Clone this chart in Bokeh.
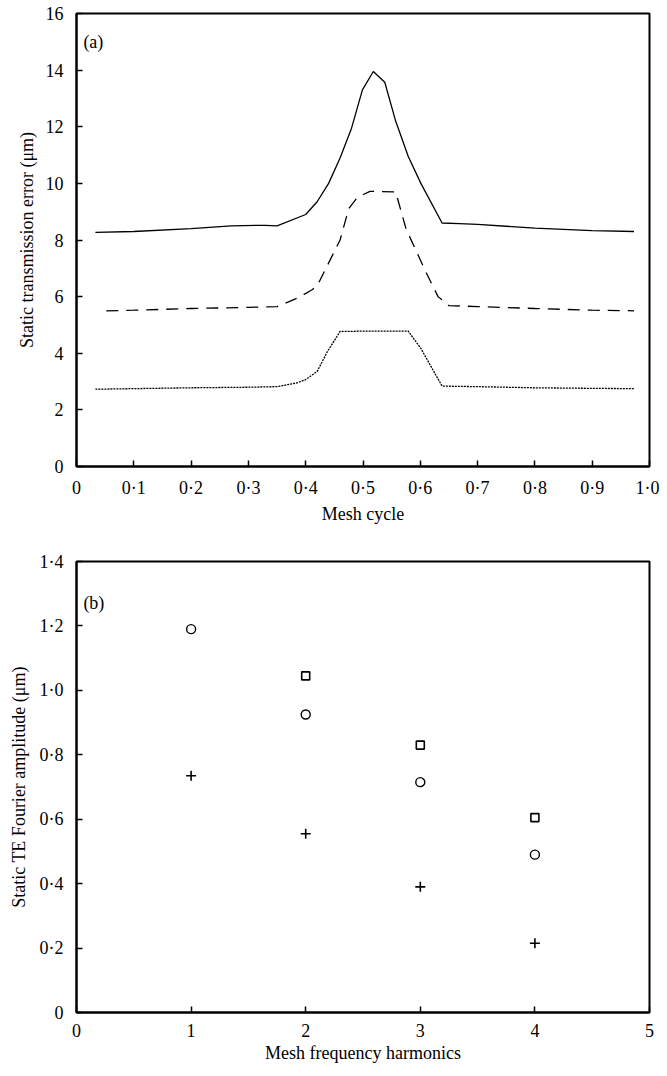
from bokeh.plotting import figure
from bokeh.layouts import column
from bokeh.models import FixedTicker, CustomJSTickFormatter, Range1d
from bokeh.core.properties import value
from bokeh.embed import file_html
from bokeh.resources import INLINE

# ---- panel (a): static transmission error over one mesh cycle ----
solid_x = [0.033, 0.1, 0.2, 0.27, 0.33, 0.35, 0.4, 0.42, 0.44, 0.46, 0.48, 0.499, 0.518,
           0.538, 0.557, 0.579, 0.601, 0.638, 0.668, 0.7, 0.8, 0.9, 0.973]
solid_y = [8.27, 8.3, 8.4, 8.5, 8.52, 8.5, 8.9, 9.35, 10.0, 10.9, 11.95, 13.3, 13.95,
           13.57, 12.2, 10.95, 10.0, 8.6, 8.58, 8.55, 8.42, 8.33, 8.3]

dashed_x = [0.052, 0.1, 0.2, 0.3, 0.35, 0.386, 0.412, 0.423, 0.46, 0.475, 0.49, 0.512,
            0.557, 0.575, 0.609, 0.631, 0.65, 0.7, 0.8, 0.9, 0.973]
dashed_y = [5.5, 5.52, 5.58, 5.62, 5.65, 5.95, 6.25, 6.5, 8.0, 9.1, 9.5, 9.72,
            9.7, 8.4, 6.9, 6.0, 5.68, 5.65, 5.58, 5.52, 5.5]

dotted_x = [0.033, 0.1, 0.2, 0.3, 0.35, 0.386, 0.4, 0.42, 0.438, 0.46, 0.5, 0.579,
            0.601, 0.638, 0.7, 0.8, 0.9, 0.973]
dotted_y = [2.73, 2.75, 2.78, 2.8, 2.82, 2.96, 3.07, 3.36, 4.06, 4.77, 4.78, 4.78,
            4.17, 2.84, 2.82, 2.78, 2.76, 2.75]

a_xticks = [0, 0.1, 0.2, 0.3, 0.4, 0.5, 0.6, 0.7, 0.8, 0.9, 1.0]
a_yticks = [0, 2, 4, 6, 8, 10, 12, 14, 16]

# ---- panel (b): Fourier amplitudes of static TE ----
circ_x = [1, 2, 3, 4]
circ_y = [1.19, 0.925, 0.715, 0.49]
sq_x = [2, 3, 4]
sq_y = [1.045, 0.83, 0.605]
plus_x = [1, 2, 3, 4]
plus_y = [0.735, 0.555, 0.39, 0.215]

b_xticks = [0, 1, 2, 3, 4, 5]
b_yticks = [0, 0.2, 0.4, 0.6, 0.8, 1.0, 1.2, 1.4]

FONT = "Liberation Serif"

dot_fmt = CustomJSTickFormatter(code="""
if (Math.abs(tick) < 1e-9) return "0";
return tick.toFixed(1).replace('.', '\u00b7');
""")
int_fmt = CustomJSTickFormatter(code="return Math.round(tick).toString();")


def style(p, ylab_standoff):
    p.toolbar_location = None
    p.grid.visible = False
    p.outline_line_color = "black"
    p.outline_line_width = 2
    p.background_fill_color = "white"
    p.border_fill_color = "white"
    for ax in (p.xaxis[0], p.yaxis[0]):
        ax.axis_line_width = 2
        ax.axis_line_color = "black"
        ax.major_tick_in = 6
        ax.major_tick_out = 0
        ax.major_tick_line_width = 1.5
        ax.minor_tick_line_color = None
        ax.major_label_text_font = FONT
        ax.major_label_text_font_size = "18px"
        ax.major_label_text_color = "black"
        ax.axis_label_text_font = FONT
        ax.axis_label_text_font_size = "18px"
        ax.axis_label_text_font_style = "normal"
        ax.axis_label_text_color = "black"
    p.xaxis[0].major_label_standoff = 11
    p.yaxis[0].major_label_standoff = 13
    p.xaxis[0].axis_label_standoff = 3
    p.yaxis[0].axis_label_standoff = ylab_standoff


pa = figure(width=659, height=527, output_backend="svg", toolbar_location=None,
            x_range=Range1d(0, 1.0), y_range=Range1d(0, 16),
            min_border_left=76, min_border_right=10, min_border_top=13, min_border_bottom=61)
pa.line(solid_x, solid_y, line_color="black", line_width=1.3)
pa.line(dashed_x, dashed_y, line_color="black", line_width=1.3, line_dash="12 8")
pa.line(dotted_x, dotted_y, line_color="black", line_width=1.3, line_dash="2 1")
pa.text(x=[0.012], y=[15.0], text=["(a)"], text_font=value(FONT), text_font_size="18px",
        text_align="left", text_baseline="middle", text_color="black")
pa.xaxis.ticker = FixedTicker(ticks=a_xticks)
pa.yaxis.ticker = FixedTicker(ticks=a_yticks)
pa.xaxis.formatter = dot_fmt
pa.yaxis.formatter = int_fmt
pa.xaxis.axis_label = "Mesh cycle"
pa.yaxis.axis_label = "Static transmission error (\u03bcm)"
style(pa, 6)

pb = figure(width=659, height=546, output_backend="svg", toolbar_location=None,
            x_range=Range1d(0, 5), y_range=Range1d(0, 1.4),
            min_border_left=76, min_border_right=10, min_border_top=34, min_border_bottom=61)
pb.scatter(circ_x, circ_y, marker="circle", size=9, fill_color=None, line_color="black", line_width=1.4)
pb.scatter(sq_x, sq_y, marker="square", size=8, fill_color=None, line_color="black", line_width=1.6)
pb.scatter(plus_x, plus_y, marker="cross", size=10, line_color="black", line_width=1.6)
pb.text(x=[0.06], y=[1.27], text=["(b)"], text_font=value(FONT), text_font_size="18px",
        text_align="left", text_baseline="middle", text_color="black")
pb.xaxis.ticker = FixedTicker(ticks=b_xticks)
pb.yaxis.ticker = FixedTicker(ticks=b_yticks)
pb.xaxis.formatter = int_fmt
pb.yaxis.formatter = dot_fmt
pb.xaxis.axis_label = "Mesh frequency harmonics"
pb.yaxis.axis_label = "Static TE Fourier amplitude (\u03bcm)"
style(pb, 8)

layout = column(pa, pb, spacing=0)
open("out.html", "w").write(file_html(layout, INLINE))
